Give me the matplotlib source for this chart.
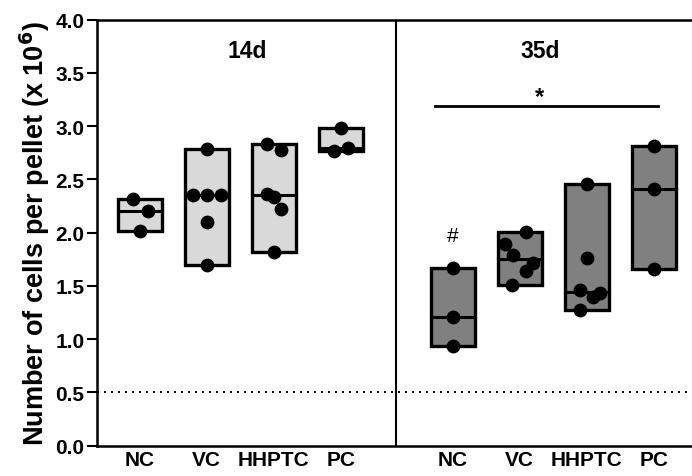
import numpy as np
import matplotlib
matplotlib.use("Agg")
import matplotlib.pyplot as plt

plt.rcParams['font.family'] = ['Liberation Sans', 'DejaVu Sans']

groups = ['NC', 'VC', 'HHPTC', 'PC']
day_labels = ['14d', '35d']

# cells per pellet (x 10^6)
d14 = {
    'NC': [2.32, 2.20, 2.02],
    'VC': [2.79, 2.35, 2.35, 2.35, 2.10, 1.70],
    'HHPTC': [2.83, 2.78, 2.36, 2.34, 2.22, 1.82],
    'PC': [2.98, 2.80, 2.77],
}
d35 = {
    'NC': [1.67, 1.21, 0.94],
    'VC': [2.01, 1.89, 1.79, 1.72, 1.64, 1.51],
    'HHPTC': [2.46, 1.76, 1.46, 1.43, 1.40, 1.27],
    'PC': [2.81, 2.41, 1.66],
}
threshold = 0.5

# horizontal scatter of the dots so they don't overlap
jit14 = {
    'NC': [-0.1, 0.12, 0], 'VC': [0, -0.21, 0, 0.21, 0, 0],
    'HHPTC': [-0.1, 0.1, -0.1, 0, 0.1, 0], 'PC': [0, 0.1, -0.1],
}
jit35 = {
    'NC': [0, 0, 0], 'VC': [0.1, -0.22, -0.1, 0.2, 0.1, -0.11],
    'HHPTC': [0, 0, -0.1, 0.2, 0.1, -0.1], 'PC': [0, 0, 0],
}

pos14 = np.arange(4)
pos35 = np.arange(4) + 4.67
width = 0.66

fig = plt.figure(figsize=(6.92, 4.77), dpi=100)
ax = fig.add_axes([0.140, 0.0635, 0.86, 0.893])

def draw_group(data, jit, positions, color):
    for g, x in zip(groups, positions):
        vals = np.array(data[g])
        lo, hi, med = vals.min(), vals.max(), np.median(vals)
        ax.bar(x, hi - lo, bottom=lo, width=width, color=color,
               edgecolor='black', linewidth=2.4, zorder=2)
        ax.plot([x - width / 2, x + width / 2], [med, med], color='black',
                lw=2.2, zorder=3)
        ax.scatter(x + np.array(jit[g]), vals, s=80, color='black', zorder=4)

draw_group(d14, jit14, pos14, '#d9d9d9')
draw_group(d35, jit35, pos35, '#808080')

ax.axhline(threshold, color='black', lw=1.4, linestyle=(0, (1, 2.6)), zorder=1)
ax.axvline(3.83, color='black', lw=1.5, zorder=1)

ax.text(1.6, 3.71, day_labels[0], ha='center', va='center', fontsize=16.5,
        fontweight='bold')
ax.text(5.98, 3.71, day_labels[1], ha='center', va='center', fontsize=16.5,
        fontweight='bold')

# significance marks
ax.plot([4.41, 7.74], [3.19, 3.19], color='black', lw=2)
ax.text(5.97, 3.28, '*', ha='center', va='center', fontsize=17, fontweight='bold')
ax.text(pos35[0], 1.97, '#', ha='center', va='center', fontsize=15)

ax.set_xlim(-0.64, 8.24)
ax.set_ylim(0, 4.0)
ax.set_yticks(np.arange(0, 4.01, 0.5))
ax.set_yticklabels([f'{v:.1f}' for v in np.arange(0, 4.01, 0.5)],
                   fontsize=15, fontweight='bold')
ax.set_xticks(np.concatenate([pos14, pos35]))
ax.set_xticklabels(groups + groups, fontsize=15, fontweight='bold')
ax.tick_params(axis='x', length=0, pad=3)
ax.tick_params(axis='y', length=7, width=1.5, pad=2)
ax.set_ylabel('Number of cells per pellet (x 10$^{\\mathbf{6}}$)', fontsize=19.5,
              fontweight='bold', labelpad=2)

for s in ['left', 'bottom', 'top']:
    ax.spines[s].set_linewidth(1.8)
ax.spines['right'].set_visible(False)

fig.savefig('out.png', dpi=100)
